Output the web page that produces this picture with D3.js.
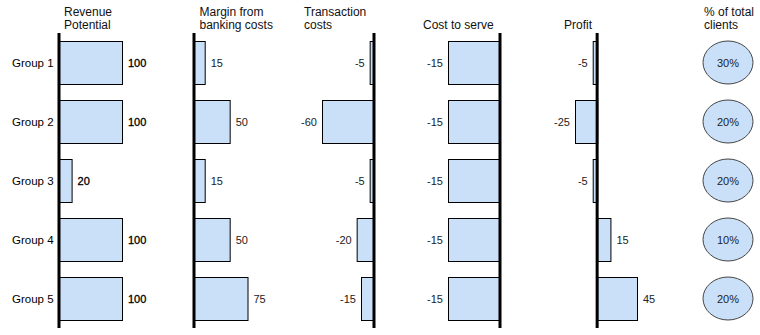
<!DOCTYPE html>
<html><head><meta charset="utf-8">
<script src="https://cdn.jsdelivr.net/npm/d3@7"></script>
<style>
body{margin:0;background:#fff;}
text{font-family:"Liberation Sans",Arial,Helvetica,sans-serif;}
</style></head>
<body><svg id="c" width="760" height="335"></svg>
<script>
const groups = ["Group 1","Group 2","Group 3","Group 4","Group 5"];
const revenue = [100,100,20,100,100];
const margin = [15,50,15,50,75];
const transaction = [-5,-60,-5,-20,-15];
const costToServe = [-15,-15,-15,-15,-15];
const profit = [-5,-25,-5,15,45];
const clientShare = ["30%","20%","20%","10%","20%"];
const headers = [["Revenue","Potential"],["Margin from","banking costs"],["Transaction","costs"],["Cost to serve"],["Profit"],["% of total","clients"]];

const svg = d3.select("#c");
const fill = "#c9e0f8";

const y = d3.scaleBand().domain(groups).range([33,328]).paddingInner(16/59).paddingOuter(8/59);

const panels = [
  {vals: revenue,     domain:[0,100],  range:[59.5,122.5], dark:true},
  {vals: margin,      domain:[0,75],   range:[194.5,248]},
  {vals: transaction, domain:[-60,0],  range:[322.5,374.5]},
  {vals: costToServe, domain:[-15,0],  range:[448.5,500.5]},
  {vals: profit,      domain:[-25,45], range:[575.5,637.5]}
];

// headers
const hxs = [64,199.5,304,423,564,704];
headers.forEach((lines,i)=>{
  const t = svg.append("text").attr("x",hxs[i]).attr("font-size",12).attr("fill","#111");
  const start = lines.length===2 ? 15.5 : 28.5;
  lines.forEach((l,j)=>t.append("tspan").attr("x",hxs[i]).attr("y",start+13*j).text(l));
});

// group labels
svg.selectAll("text.grp").data(groups).join("text").attr("class","grp")
  .attr("x",12).attr("y",d=>y(d)+y.bandwidth()/2+4)
  .attr("font-size",11.5).attr("fill","#000").text(d=>d);

panels.forEach(p=>{
  const x = d3.scaleLinear().domain(p.domain).range(p.range);
  const g = svg.append("g");
  const data = p.vals.map((v,i)=>({v, grp:groups[i]}));
  g.selectAll("rect").data(data).join("rect")
    .attr("x",d=>Math.min(x(0),x(d.v)))
    .attr("y",d=>y(d.grp)+0.5)
    .attr("width",d=>Math.abs(x(d.v)-x(0)))
    .attr("height",y.bandwidth())
    .attr("fill",fill).attr("stroke","#000").attr("stroke-width",1);
  g.append("line").attr("x1",x(0)-0.5).attr("x2",x(0)-0.5)
    .attr("y1",y.range()[0]).attr("y2",y.range()[1])
    .attr("stroke","#000").attr("stroke-width",3);
  g.selectAll("text").data(data).join("text")
    .attr("x",d=>d.v>=0 ? x(d.v)+5.5 : x(d.v)-5.5)
    .attr("text-anchor",d=>d.v>=0?"start":"end")
    .attr("y",d=>y(d.grp)+y.bandwidth()/2+4)
    .attr("font-size",11)
    .attr("fill",p.dark?"#000":"#222")
    .attr("stroke",p.dark?"#000":"none").attr("stroke-width",p.dark?0.3:0)
    .text(d=>d.v);
});

// clients ellipses
const eg = svg.append("g");
const cdata = clientShare.map((s,i)=>({s,grp:groups[i]}));
eg.selectAll("ellipse").data(cdata).join("ellipse")
  .attr("cx",728).attr("cy",d=>y(d.grp)+y.bandwidth()/2)
  .attr("rx",25).attr("ry",y.bandwidth()/2)
  .attr("fill",fill).attr("stroke","#444").attr("stroke-width",1);
eg.selectAll("text").data(cdata).join("text")
  .attr("x",728).attr("y",d=>y(d.grp)+y.bandwidth()/2+4)
  .attr("text-anchor","middle").attr("font-size",11).attr("fill","#222")
  .text(d=>d.s);
</script></body></html>
